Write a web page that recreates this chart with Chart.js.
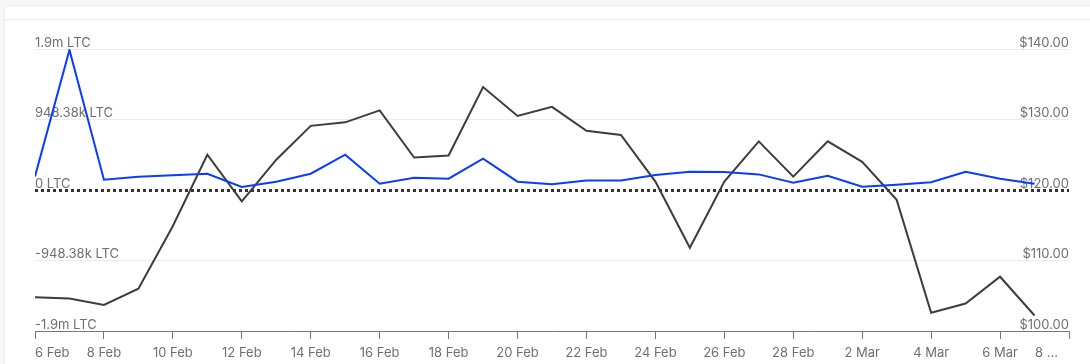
<!DOCTYPE html>
<html>
<head>
<meta charset="utf-8">
<script src="https://cdn.jsdelivr.net/npm/chart.js@4"></script>
<style>
  html, body { margin: 0; padding: 0; background: #f7f7f9; overflow: hidden; }
  .card { position: absolute; left: 4px; top: 5px; width: 1200px; height: 500px; background: #fff; border: 1px solid #ececec; border-radius: 4px; }
  .card .head { position: absolute; left: 0; right: 0; top: 13px; border-bottom: 1px solid #ebebeb; }
  .wrap { position: absolute; left: 0; top: 0; width: 1090px; height: 364px; }
</style>
</head>
<body>
<div class="card"><div class="head"></div></div>
<div class="wrap"><canvas id="flowChart"></canvas></div>
<script>
// days with data (6 Feb .. 7 Mar)
const days = ["6 Feb", "7 Feb", "8 Feb", "9 Feb", "10 Feb", "11 Feb", "12 Feb", "13 Feb", "14 Feb", "15 Feb",
  "16 Feb", "17 Feb", "18 Feb", "19 Feb", "20 Feb", "21 Feb", "22 Feb", "23 Feb", "24 Feb", "25 Feb",
  "26 Feb", "27 Feb", "28 Feb", "1 Mar", "2 Mar", "3 Mar", "4 Mar", "5 Mar", "6 Mar", "7 Mar"];

// x axis tick labels, every 2 days (last one is cut in the original)
const axisLabels = ["6 Feb", "8 Feb", "10 Feb", "12 Feb", "14 Feb", "16 Feb", "18 Feb", "20 Feb",
  "22 Feb", "24 Feb", "26 Feb", "28 Feb", "2 Mar", "4 Mar", "6 Mar", "8 ...   "];

// net flow in LTC (blue)
const netFlowLTC = [183000, 1885000, 139000, 179000, 199000, 219000, 40000, 112000, 219000, 475000,
  85000, 165000, 152000, 421000, 112000, 78000, 129000, 129000, 202000, 246000,
  242000, 210000, 98000, 192000, 44000, 71000, 105000, 246000, 152000, 85000];

// LTC price in USD (dark)
const priceUSD = [104.8, 104.6, 103.7, 106.0, 114.9, 125.0, 118.4, 124.3, 129.1, 129.6,
  131.3, 124.6, 124.9, 134.6, 130.5, 131.8, 128.4, 127.8, 121.2, 111.8,
  121.2, 126.9, 121.9, 126.9, 124.0, 118.6, 102.6, 103.9, 107.7, 102.2];

const ltcTicks = [-1896760, -948380, 0, 948380, 1896760];
const ltcTickLabels = ["-1.9m LTC", "-948.38k LTC", "0 LTC", "948.38k LTC", "1.9m LTC"];
const priceTicks = [100, 110, 120, 130, 140];
const priceTickLabels = ["$100.00", "$110.00", "$120.00", "$130.00", "$140.00"];

const tickFont = { family: "Inter", size: 13 };
const tickColor = "#6f6f6f";

// dotted zero line across the chart area
const zeroLine = {
  id: "zeroLine",
  beforeDatasetsDraw(chart) {
    const { ctx, chartArea, scales } = chart;
    const y = Math.round(scales.yFlow.getPixelForValue(0)) + 0.5;
    ctx.save();
    ctx.strokeStyle = "#333";
    ctx.lineWidth = 3;
    ctx.setLineDash([3, 3]);
    ctx.beginPath();
    ctx.moveTo(chartArea.left, y);
    ctx.lineTo(chartArea.right, y);
    ctx.stroke();
    ctx.restore();
  }
};

new Chart(document.getElementById("flowChart"), {
  type: "line",
  data: {
    datasets: [
      {
        label: "Net flow",
        data: netFlowLTC.map((v, i) => ({ x: i, y: v })),
        borderColor: "#0a3cff",
        borderWidth: 2,
        pointRadius: 0,
        tension: 0,
        yAxisID: "yFlow"
      },
      {
        label: "Price",
        data: priceUSD.map((v, i) => ({ x: i, y: v })),
        borderColor: "#3d3d3d",
        borderWidth: 2,
        pointRadius: 0,
        tension: 0,
        yAxisID: "yPrice"
      }
    ]
  },
  options: {
    responsive: true,
    maintainAspectRatio: false,
    animation: false,
    layout: { padding: { left: 35, right: 21, top: 49, bottom: 0 } },
    plugins: { legend: { display: false }, tooltip: { enabled: false } },
    scales: {
      x: {
        type: "linear",
        min: 0,
        max: 30,
        afterFit: s => { s.height = 33; },
        ticks: {
          stepSize: 2,
          font: tickFont,
          color: tickColor,
          padding: 6,
          align: "inner",
          maxRotation: 0,
          autoSkip: false,
          callback: (v, i) => axisLabels[i]
        },
        grid: { drawOnChartArea: false, drawTicks: true, tickLength: 8, color: "#777" },
        border: { display: true, color: "#777", width: 1 }
      },
      yFlow: {
        position: "left",
        min: ltcTicks[0],
        max: ltcTicks[ltcTicks.length - 1],
        afterBuildTicks: s => { s.ticks = ltcTicks.map(v => ({ value: v })); },
        ticks: {
          mirror: true,
          padding: 0,
          labelOffset: -6,
          font: tickFont,
          color: tickColor,
          callback: (v, i) => ltcTickLabels[i]
        },
        grid: {
          drawTicks: false,
          color: c => (c.tick && c.tick.value === 0) ? "rgba(0,0,0,0)" : "#ebebeb"
        },
        border: { display: false }
      },
      yPrice: {
        position: "right",
        min: priceTicks[0],
        max: priceTicks[priceTicks.length - 1],
        afterBuildTicks: s => { s.ticks = priceTicks.map(v => ({ value: v })); },
        ticks: {
          mirror: true,
          padding: 0,
          labelOffset: -6,
          font: tickFont,
          color: tickColor,
          callback: (v, i) => priceTickLabels[i]
        },
        grid: { display: false, drawTicks: false },
        border: { display: false }
      }
    }
  },
  plugins: [zeroLine]
});
</script>
</body>
</html>
